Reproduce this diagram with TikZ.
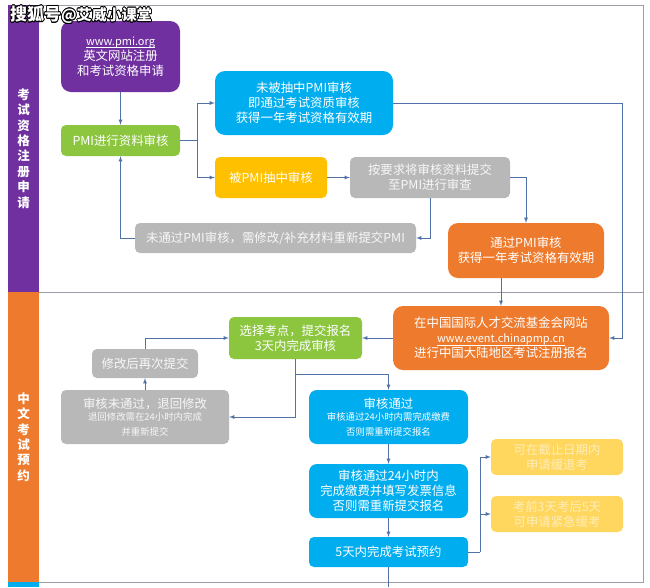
\documentclass[tikz,border=0pt]{standalone}
\usepackage{fontspec}
\setmainfont{Noto Sans CJK SC}
\usepackage{contour}
\contourlength{0.7pt}
\definecolor{cpurple}{HTML}{7030A0}
\definecolor{cgreen}{HTML}{8CC63F}
\definecolor{cblue}{HTML}{00AEEF}
\definecolor{cgold}{HTML}{FFC000}
\definecolor{cgray}{HTML}{B8B8B8}
\definecolor{corange}{HTML}{EE7B2D}
\definecolor{cpale}{HTML}{FFD75E}
\definecolor{cline}{HTML}{5072A7}
\definecolor{cframe}{HTML}{9A9FA8}
\newlength{\webwidth}
\newcommand{\minortext}{\fontsize{9.4}{11.5}\selectfont}
\newcommand{\webtext}[1]{{\fontsize{11}{14.5}\selectfont\settowidth{\webwidth}{#1}\rlap{\rule[-2.5pt]{\webwidth}{0.6pt}}#1}}
\tikzset{
  box/.style={rounded corners=5pt, align=center, text=white, inner sep=0pt, font=\fontsize{12.4}{15}\selectfont},
  bigbox/.style={box, rounded corners=10pt},
  graybox/.style={box, fill=cgray, text=white!88!cgray},
  palebox/.style={box, fill=cpale, text=white!55!cpale, minimum width=132pt, minimum height=36pt},
  side/.style={align=center, text=white, inner sep=0pt, minimum width=31pt, font=\fontsize{12.5}{15.4}\selectfont\bfseries},
  link/.style={draw=cline, line width=0.8pt, -latex},
  plain/.style={draw=cline, line width=0.8pt}
}
\begin{document}
\begin{tikzpicture}[x=1pt,y=-1pt]
\useasboundingbox (0,0) rectangle (650,587);
\fill[white] (0,0) rectangle (650,587);
% frame
  \node[draw=cframe, line width=0.7pt, inner sep=0pt, minimum width=635pt, minimum height=287pt] (upper) at (325.5,148.5) {};
  \node[draw=cframe, line width=0.7pt, inner sep=0pt, minimum width=635pt, minimum height=290pt] (lower) at (325.5,437) {};
% side bars
  \node[side, fill=cpurple, minimum height=287pt] (sideA) at (23.5,148.5) {考\\试\\资\\格\\注\\册\\申\\请};
  \node[side, fill=corange, minimum height=290pt] (sideB) at (23.5,437) {中\\文\\考\\试\\预\\约};
  \node[side, fill=cblue, minimum height=5pt] (sideC) at (23.5,584.5) {};
% upper part
  \node[bigbox, fill=cpurple, minimum width=119pt, minimum height=71pt] (pmi) at (120.5,56.5) {\webtext{www.pmi.org}\\英文网站注册\\和考试资格申请};
  \node[box, fill=cgreen, minimum width=119pt, minimum height=31pt] (review) at (120.5,140.5) {PMI进行资料审核};
  \node[bigbox, fill=cblue, minimum width=178pt, minimum height=64pt] (free) at (304,103) {未被抽中PMI审核\\即通过考试资质审核\\获得一年考试资格有效期};
  \node[box, fill=cgold, minimum width=112pt, minimum height=41pt] (drawn) at (271,177.5) {被PMI抽中审核};
  \node[graybox, minimum width=160pt, minimum height=41pt] (submit) at (430,177.5) {按要求将审核资料提交\\至PMI进行审查};
  \node[graybox, minimum width=281pt, minimum height=30pt] (fail) at (275.5,238) {未通过PMI审核，需修改/补充材料重新提交PMI};
  \node[bigbox, fill=corange, minimum width=156pt, minimum height=55pt] (pass) at (526,250.5) {通过PMI审核\\获得一年考试资格有效期};
% lower part
  \node[bigbox, fill=corange, minimum width=216pt, minimum height=64pt] (event) at (501,338) {在中国国际人才交流基金会网站\\\webtext{www.event.chinapmp.cn}\\进行中国大陆地区考试注册报名};
  \node[box, fill=cgreen, minimum width=133pt, minimum height=42pt] (select) at (295.5,338) {选择考点，提交报名\\3天内完成审核};
  \node[graybox, minimum width=106pt, minimum height=29pt] (modify) at (145,363.5) {修改后再次提交};
  \node[graybox, minimum width=168pt, minimum height=54pt] (back) at (145,417)%
{%
  审核未通过，退回修改\\[-3pt]
  \minortext 退回修改需在24小时内完成\\
  \minortext 并重新提交
};
  \node[box, fill=cblue, minimum width=159pt, minimum height=54pt, rounded corners=8pt] (okay) at (388.5,417)%
{%
  审核通过\\[-3pt]
  \minortext 审核通过24小时内需完成缴费\\
  \minortext 否则需重新提交报名
};
  \node[box, fill=cblue, minimum width=159pt, minimum height=54pt, rounded corners=8pt] (paid) at (388.5,491) {审核通过24小时内\\完成缴费并填写发票信息\\否则需重新提交报名};
  \node[box, fill=cblue, minimum width=159pt, minimum height=30pt] (book) at (388.5,552) {5天内完成考试预约};
  \node[palebox] (refund) at (557,457) {可在截止日期内\\申请缓退考};
  \node[palebox] (urgent) at (557,514) {考前3天考后5天\\可申请紧急缓考};
% watermark
  \node[anchor=west, inner sep=0pt, font=\fontsize{15}{16}\selectfont\bfseries, text=white] (mark) at (10,15) {\contour{black}{{\fontsize{17}{16}\selectfont 搜狐号}@艾威小课堂}};
% turning points
  \coordinate (trunk) at (197,140.5);
  \coordinate (far) at (622,103);
  \coordinate (fork) at (295.5,374);
  \coordinate (rail) at (480,552);
  \coordinate (out) at (388.5,587);
%%%%%%%%%%%%%%%%
\draw[link] (pmi.south) -- (review.north);
\draw[plain] (review.east) -- (trunk);
\draw[link] (trunk) |- (free.west);
\draw[link] (trunk) |- (drawn.west);
\draw[link] (drawn.east) -- (submit.west);
\draw[link] (submit.east) -| (pass.north);
\draw[link] (submit.south) |- (fail.east);
\draw[link] (fail.west) -| (review.south);
\draw[plain] (free.east) -- (far);
\draw[link] (far) |- (event.east);
\draw[link] (pass.south -| event.north) -- (event.north);
\draw[link] (event.west) -- (select.east);
\draw[link] (select.south) |- (back.east);
\draw[link] (fork) -| (okay.north);
\draw[link] (back.north) -- (modify.south);
\draw[link] (modify.north) |- (select.west);
\draw[link] (okay.south) -- (paid.north);
\draw[link] (paid.south) -- (book.north);
\draw[plain] (book.south) -- (out);
\draw[plain] (book.east) -- (rail);
\draw[link] (rail) |- (refund.west);
\draw[link] (rail) |- (urgent.west);
\end{tikzpicture}
\end{document}
